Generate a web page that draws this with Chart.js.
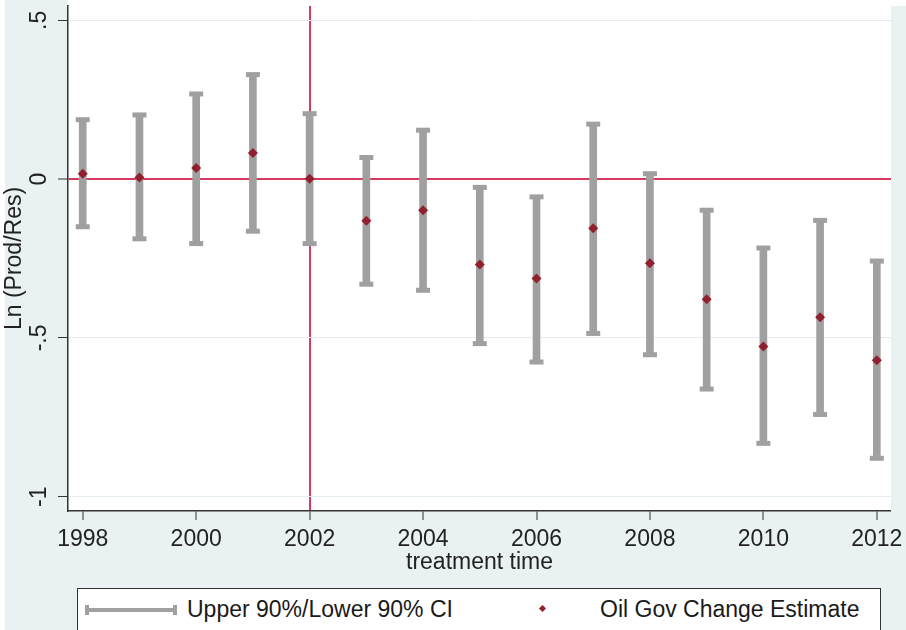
<!DOCTYPE html>
<html>
<head>
<meta charset="utf-8">
<title>Oil Gov Change Estimate</title>
<script src="https://cdn.jsdelivr.net/npm/chart.js@4.4.1/dist/chart.umd.min.js"></script>
<style>
    body { margin: 0; background: #ffffff; }
    #wrap { position: relative; width: 906px; height: 630px; overflow: hidden; }
    #legend {
        position: absolute; left: 77px; top: 588px; width: 802px; height: 60px;
        border: 1.5px solid #333; background: #fff;
        font-family: "Liberation Sans", Arial, sans-serif; font-size: 23px; color: #1a1a1a;
    }
    #legend .txt { position: absolute; top: 9px; line-height: 1; white-space: nowrap; }
    .ci-line { position: absolute; left: 7px; top: 19px; width: 92px; height: 4px; background: #a0a0a0; }
    .ci-line::before, .ci-line::after {
        content: ''; position: absolute; top: -3px; width: 4px; height: 10px; background: #a0a0a0;
    }
    .ci-line::before { left: 0; }
    .ci-line::after { right: 0; }
    .est-dot { position: absolute; left: 462px; top: 17px; width: 5px; height: 5px; background: #90202e; transform: rotate(45deg); }
</style>
</head>
<body>
<div id="wrap">
    <canvas id="ciChart" width="906" height="630"></canvas>
    <div id="legend"></div>
</div>
<script>
// Dữ liệu
const years = [1998, 1999, 2000, 2001, 2002, 2003, 2004, 2005, 2006, 2007, 2008, 2009, 2010, 2011, 2012];
const estimate = [0.017, 0.005, 0.035, 0.082, 0.001, -0.131, -0.098, -0.269, -0.313, -0.155, -0.265, -0.378, -0.527, -0.435, -0.570];
const upper90 = [0.187, 0.202, 0.268, 0.329, 0.206, 0.068, 0.154, -0.026, -0.056, 0.173, 0.017, -0.098, -0.217, -0.130, -0.258];
const lower90 = [-0.150, -0.188, -0.203, -0.164, -0.203, -0.331, -0.350, -0.518, -0.576, -0.486, -0.553, -0.661, -0.832, -0.741, -0.879];

const xTicks = [1998, 2000, 2002, 2004, 2006, 2008, 2010, 2012];
const xTickLabels = ['1998', '2000', '2002', '2004', '2006', '2008', '2010', '2012'];
const yTicks = [-1, -0.5, 0, 0.5];
const yTickLabels = ['-1', '-.5', '0', '.5'];

const treatmentYear = 2002;
const baseline = 0;

const ciLabel = 'Upper 90%/Lower 90% CI';
const estLabel = 'Oil Gov Change Estimate';

const FONT = '"Liberation Sans", Arial, sans-serif';
const RED = '#d6395f';
const GREY = '#a0a0a0';

document.addEventListener('DOMContentLoaded', function() {
    // nền xanh nhạt bên ngoài, vùng vẽ màu trắng
    const bgPlugin = {
        id: 'bg',
        beforeDraw(chart) {
            const ctx = chart.ctx;
            const a = chart.chartArea;
            ctx.save();
            ctx.fillStyle = '#eaf1f3';
            ctx.fillRect(0, 0, chart.width, chart.height);
            ctx.fillStyle = '#ffffff';
            ctx.fillRect(a.left, a.top, a.right - a.left, a.bottom - a.top);
            ctx.fillRect(a.left, 0, chart.width - a.left, a.top);
            ctx.fillRect(0, 0, 5, chart.height);
            ctx.restore();
        }
    };

    const ctx = document.getElementById('ciChart').getContext('2d');
    const chart = new Chart(ctx, {
        type: 'scatter',
        data: {
            datasets: [
                {
                    label: estLabel,
                    data: years.map((y, i) => ({ x: y, y: estimate[i] })),
                    pointStyle: 'rectRot',
                    pointRadius: 5,
                    backgroundColor: '#90202e',
                    borderColor: '#90202e',
                    borderWidth: 0,
                    order: 0
                },
                {
                    label: 'caps',
                    data: years.map((y, i) => ({ x: y, y: upper90[i] }))
                        .concat(years.map((y, i) => ({ x: y, y: lower90[i] }))),
                    pointStyle: 'line',
                    pointRadius: 7,
                    borderColor: GREY,
                    borderWidth: 5,
                    order: 1
                },
                {
                    type: 'bar',
                    label: ciLabel,
                    data: years.map((y, i) => ({ x: y, y: [lower90[i], upper90[i]] })),
                    backgroundColor: GREY,
                    borderWidth: 0,
                    barThickness: 7,
                    order: 2
                }
            ]
        },
        options: {
            responsive: false,
            animation: false,
            layout: { autoPadding: false, padding: { left: 0, right: 15, top: 6, bottom: 54 } },
            plugins: {
                legend: { display: false },
                tooltip: { enabled: false }
            },
            scales: {
                x: {
                    type: 'linear',
                    min: 1997.74,
                    max: 2012.25,
                    offset: false,
                    afterBuildTicks: scale => { scale.ticks = xTicks.map(v => ({ value: v })); },
                    afterFit: scale => {
                        scale.height = 65;
                        scale.paddingLeft = 0;
                        scale.paddingRight = 0;
                    },
                    ticks: {
                        callback: (v, i) => xTickLabels[i],
                        autoSkip: false,
                        maxRotation: 0,
                        padding: 6,
                        color: '#222',
                        font: { family: FONT, size: 23 }
                    },
                    grid: {
                        offset: false,
                        color: c => (c.tick && c.tick.value === treatmentYear) ? RED : 'rgba(0,0,0,0)',
                        lineWidth: c => (c.tick && c.tick.value === treatmentYear) ? 2 : 0,
                        tickColor: '#333',
                        tickLength: 9,
                        tickWidth: 1
                    },
                    border: { display: true, color: '#333', width: 1.5 },
                    title: {
                        display: true,
                        text: 'treatment time',
                        color: '#222',
                        padding: { top: 0, bottom: 0 },
                        font: { family: FONT, size: 23 }
                    }
                },
                y: {
                    type: 'linear',
                    min: -1.045,
                    max: 0.545,
                    afterBuildTicks: scale => { scale.ticks = yTicks.map(v => ({ value: v })); },
                    afterFit: scale => {
                        scale.width = 68;
                        scale.paddingTop = 0;
                        scale.paddingBottom = 0;
                    },
                    ticks: {
                        callback: (v, i) => yTickLabels[i],
                        minRotation: 90,
                        maxRotation: 90,
                        crossAlign: 'center',
                        padding: 5,
                        color: '#222',
                        font: { family: FONT, size: 23 }
                    },
                    grid: {
                        color: c => (c.tick && c.tick.value === baseline) ? RED : '#e4eeee',
                        lineWidth: c => (c.tick && c.tick.value === baseline) ? 2 : 1,
                        tickColor: '#333',
                        tickLength: 10,
                        tickWidth: 1
                    },
                    border: { display: true, color: '#333', width: 1.5 },
                    title: {
                        display: true,
                        text: 'Ln (Prod/Res)',
                        color: '#222',
                        padding: { top: 1, bottom: 0 },
                        font: { family: FONT, size: 23 }
                    }
                }
            }
        },
        plugins: [bgPlugin]
    });

    buildLegend();
});

// Chú thích kiểu Stata, viết bằng HTML
function buildLegend() {
    const legend = document.getElementById('legend');
    legend.innerHTML = `
        <div class="ci-line"></div>
        <span class="txt" style="left: 109px">${ciLabel}</span>
        <div class="est-dot"></div>
        <span class="txt" style="left: 522px">${estLabel}</span>
    `;
}
</script>
</body>
</html>
